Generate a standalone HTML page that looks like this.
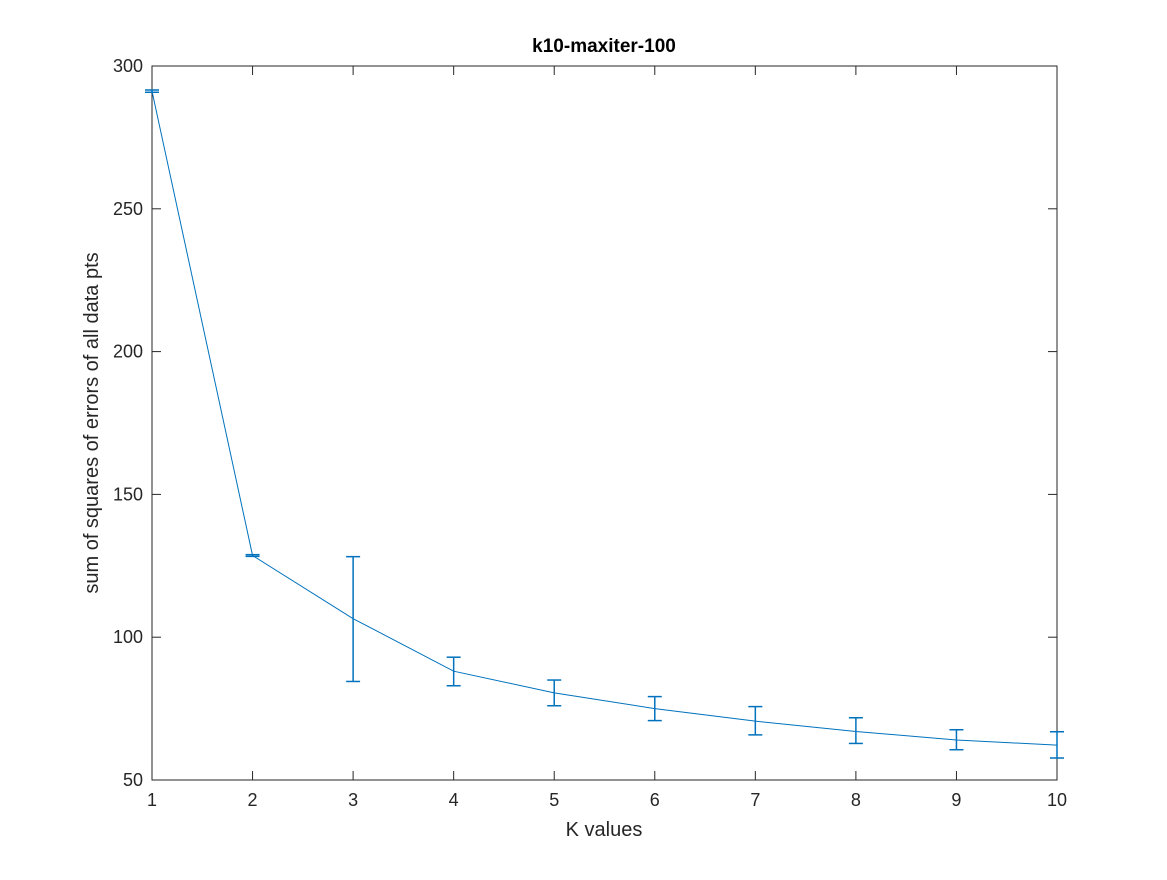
<!DOCTYPE html>
<html><head><meta charset="utf-8"><style>
body{margin:0;background:#fff;}
svg text{font-family:"Liberation Sans",sans-serif;fill:#262626;}
</style></head><body>
<svg id="chart" width="1167" height="875">
<rect x="0" y="0" width="1167" height="875" fill="#fff"/>
<g id="axes"></g>
<g id="series"></g>
<text x="604" y="52" text-anchor="middle" font-size="19" font-weight="bold" style="fill:#000">k10-maxiter-100</text>
<text x="604" y="836" text-anchor="middle" font-size="20">K values</text>
<text transform="translate(98,423) rotate(-90)" text-anchor="middle" font-size="20">sum of squares of errors of all data pts</text>
</svg>
<script>
const kValues=[1,2,3,4,5,6,7,8,9,10];
const meanValues=[291.2,128.6,106.5,88.1,80.5,75.0,70.6,67.0,64.0,62.2];
const upperValues=[291.6,128.9,128.2,93.0,85.0,79.2,75.7,71.8,67.6,66.9];
const lowerValues=[290.8,128.3,84.5,83.0,76.0,70.8,65.8,62.8,60.6,57.7];
const xTicks=[1,2,3,4,5,6,7,8,9,10];
const yTicks=[50,100,150,200,250,300];
const L=152,R=1057,T=66,B=780;
const xs=v=>L+(v-1)/9*(R-L);
const ys=v=>B-(v-50)/250*(B-T);
const NS="http://www.w3.org/2000/svg";
function mk(tag,attrs,parent){const e=document.createElementNS(NS,tag);for(const k in attrs)e.setAttribute(k,attrs[k]);parent.appendChild(e);return e;}
const ax=document.getElementById('axes');
const box=mk('rect',{x:L,y:T,width:R-L,height:B-T,fill:'none',stroke:'#262626','stroke-width':1},ax);


xTicks.forEach(t=>{const x=xs(t);
mk('line',{x1:x,y1:B,x2:x,y2:B-9,stroke:'#262626'},ax);
mk('line',{x1:x,y1:T,x2:x,y2:T+9,stroke:'#262626'},ax);
const tx=mk('text',{x:x,y:B+26,'text-anchor':'middle','font-size':18},ax);tx.textContent=t;

});
yTicks.forEach(t=>{const y=ys(t);
mk('line',{x1:L,y1:y,x2:L+9,y2:y,stroke:'#262626'},ax);
mk('line',{x1:R,y1:y,x2:R-9,y2:y,stroke:'#262626'},ax);
const tx=mk('text',{x:L-9,y:y+6,'text-anchor':'end','font-size':18},ax);tx.textContent=t;

});
const sg=document.getElementById('series');
const c='#0072BD';
const pl=mk('polyline',{points:kValues.map((k,i)=>xs(k)+','+ys(meanValues[i])).join(' '),fill:'none',stroke:c,'stroke-width':1},sg);


kValues.forEach((k,i)=>{const x=xs(k),yu=ys(upperValues[i]),yl=ys(lowerValues[i]);
const g=mk('g',{stroke:c,'stroke-width':1.5},sg);


mk('line',{x1:x,y1:yu,x2:x,y2:yl},g);
mk('line',{x1:x-7,y1:yu,x2:x+7,y2:yu},g);
mk('line',{x1:x-7,y1:yl,x2:x+7,y2:yl},g);});
</script>
</body></html>
